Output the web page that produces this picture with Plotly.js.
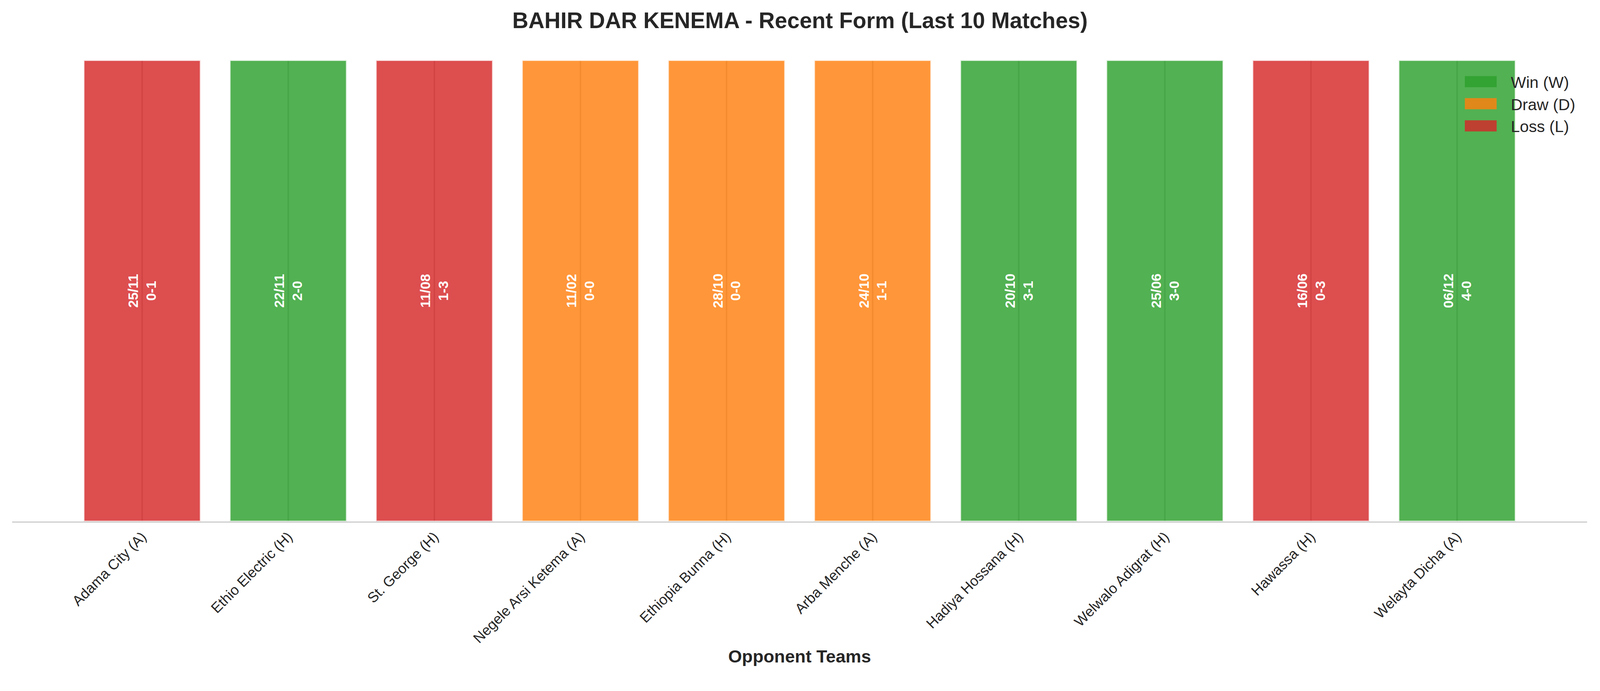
<!DOCTYPE html>
<html>
<head>
<meta charset="utf-8">
<script src="https://cdn.plot.ly/plotly-3.0.1.min.js"></script>
<style>
  html, body { margin: 0; padding: 0; background: #ffffff; overflow: hidden; }
</style>
</head>
<body>
<div id="form_chart"></div>
<script>
// last 10 matches, oldest on the left as in the original
const teams = [
    "Adama City (A)", "Ethio Electric (H)", "St. George (H)", "Negele Arsi Ketema (A)",
    "Ethiopia Bunna (H)", "Arba Menche (A)", "Hadiya Hossana (H)", "Welwalo Adigrat (H)",
    "Hawassa (H)", "Welayta Dicha (A)"
];
const results = ["L", "W", "L", "D", "D", "D", "W", "W", "L", "W"];
const dates   = ["25/11", "22/11", "11/08", "11/02", "28/10", "24/10", "20/10", "25/06", "16/06", "06/12"];
const scores  = ["0-1", "2-0", "1-3", "0-0", "0-0", "1-1", "3-1", "3-0", "0-3", "4-0"];
const barHeight = 1;

const result_order = ["W", "D", "L"];
const result_names = { "W": "Win (W)", "D": "Draw (D)", "L": "Loss (L)" };

// sizes below are for a 4170px wide page, scaled to the real viewport
const W = window.innerWidth;
const H = window.innerHeight;
const s = W / 4170;

function get_colors(res) {
    colors = {
        "W" : "44,160,44",
        "D" : "255,127,14",
        "L" : "214,39,40"
    };
    return colors[res];
}

// thin grid strip behind each bar, only seen through the bar
let traces = [{
    type: "bar",
    x: teams,
    y: teams.map(function () { return barHeight; }),
    width: 0.0105,
    marker: { color: "#c2c2c2", line: { width: 0 } },
    showlegend: false,
    hoverinfo: "skip"
}];

for (res of result_order) {
    let x = [];
    let y = [];
    let txt = [];
    for (let i = 0; i < teams.length; i++) {
        if (results[i] != res) continue;
        x.push(teams[i]);
        y.push(barHeight);
        txt.push(dates[i] + "<br>" + scores[i]);
    }
    traces.push({
        type: "bar",
        name: result_names[res],
        x: x,
        y: y,
        width: 0.8,
        text: txt,
        textposition: "inside",
        insidetextanchor: "middle",
        textangle: -90,
        constraintext: "none",
        textfont: { family: "Liberation Sans, Arial, sans-serif", size: 36 * s, color: "#ffffff", weight: "bold" },
        marker: {
            color: "rgba(" + get_colors(res) + ",0.82)",
            line: { color: "rgba(255,255,255,0.8)", width: 4 * s }
        },
        hoverinfo: "skip"
    });
}

Plotly.newPlot("form_chart", traces, {
    width: W,
    height: H,
    barmode: "overlay",
    paper_bgcolor: "#ffffff",
    plot_bgcolor: "#ffffff",
    font: { family: "Liberation Sans, Arial, sans-serif", color: "#262626" },
    margin: { l: 32 * s, r: 34 * s, t: 97 * s, b: H - 1359 * s, autoexpand: false },
    title: {
        text: "<b>BAHIR DAR KENEMA - Recent Form (Last 10 Matches)</b>",
        font: { size: 58 * s, color: "#262626" },
        x: 0.5, xanchor: "center",
        y: 1 - 53 * s / H, yref: "container", yanchor: "middle"
    },
    xaxis: {
        type: "category",
        categoryorder: "array",
        categoryarray: teams,
        range: [-0.89, 9.89],
        tickangle: -45,
        tickfont: { size: 37.5 * s, color: "#262626" },
        ticklabelshift: -15 * s,
        ticks: "",
        showgrid: false,
        zeroline: false,
        showline: true,
        linecolor: "#cccccc",
        linewidth: 3 * s,
        automargin: false,
        title: {
            text: "<b>Opponent Teams</b>",
            font: { size: 46 * s, color: "#262626" },
            standoff: 12 * s
        }
    },
    yaxis: {
        range: [0, 1.05],
        showticklabels: false,
        showgrid: false,
        zeroline: false,
        showline: false,
        ticks: ""
    },
    legend: {
        x: 0.9223, xanchor: "left",
        y: 0.935, yanchor: "top",
        bgcolor: "rgba(0,0,0,0)",
        itemwidth: 110 * s,
        font: { size: 42 * s, color: "#262626" },
        traceorder: "normal"
    },
    showlegend: true
}, { staticPlot: true }).then(function (gd) {
    // wider, solid legend patches like the original
    gd.querySelectorAll("g.legend g.traces").forEach(function (item, k) {
        let label = item.querySelector("text.legendtext");
        let textX = parseFloat(label.getAttribute("x"));
        let patch = item.querySelector("g.legendpoints path");
        if (!patch) return;
        let pw = 83 * s, ph = 29 * s;
        patch.setAttribute("d", "M" + (-pw / 2) + "," + (-ph / 2) + "h" + pw + "v" + ph + "h" + (-pw) + "z");
        patch.setAttribute("transform", "translate(" + (textX - 37 * s - pw / 2) + ",0)");
        patch.style.fill = "rgb(" + get_colors(result_order[k]) + ")";
        patch.style.stroke = "none";
    });
});
</script>
</body>
</html>
